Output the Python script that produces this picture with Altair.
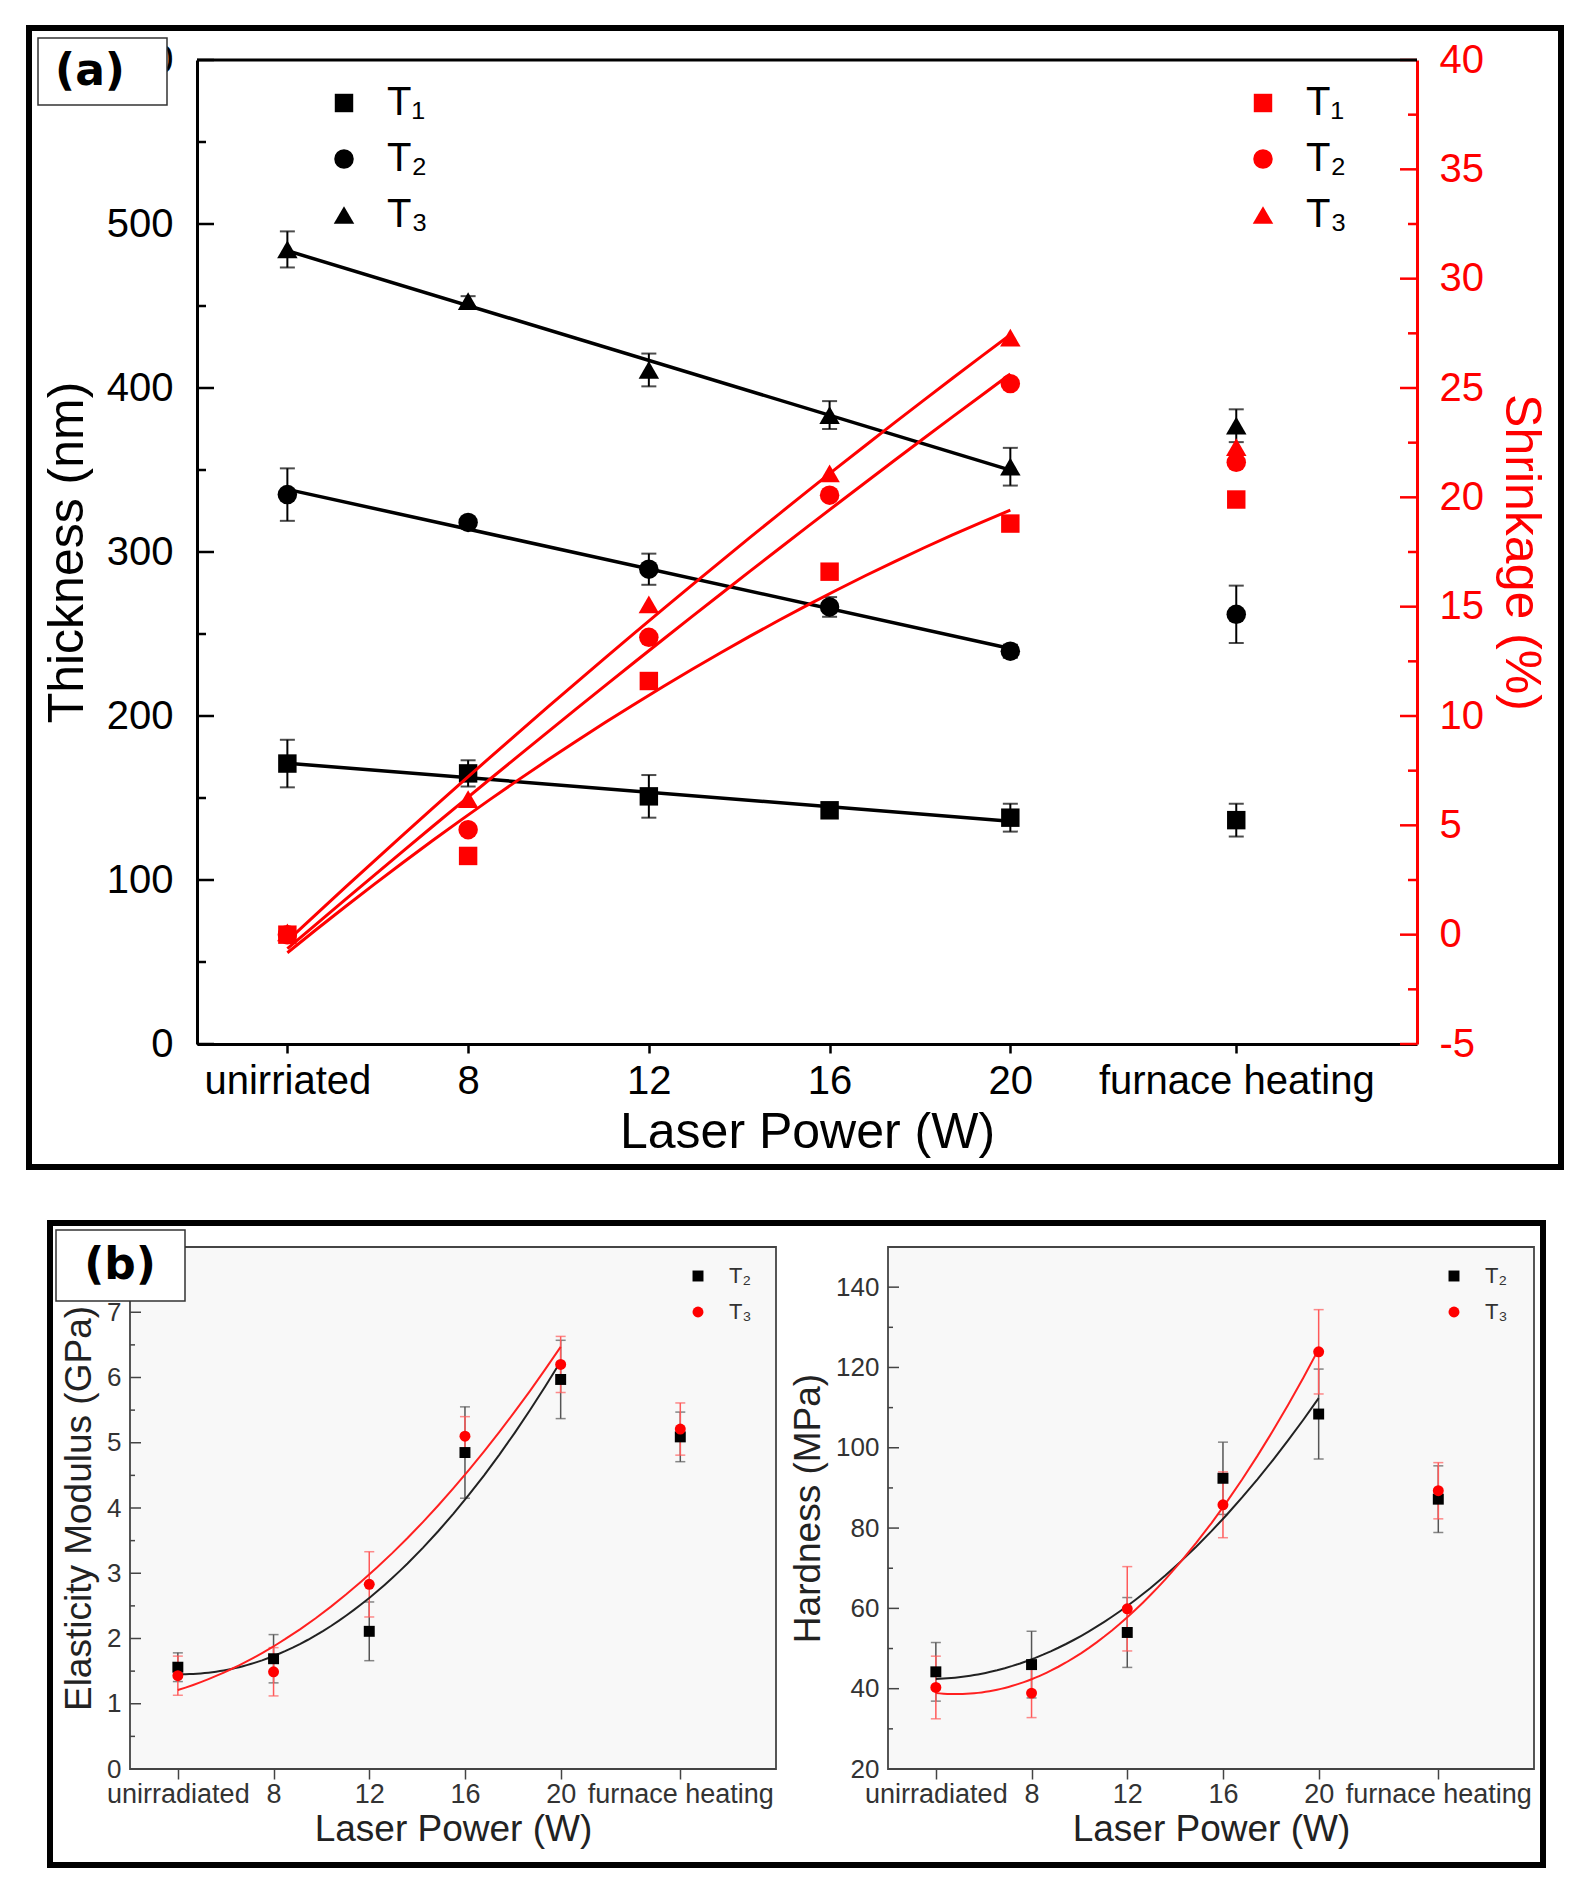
import altair as alt
import pandas as pd

FONT = "Liberation Sans"

# ---------------- data ----------------
x_pos = [4, 8, 12, 16, 20, 25]
x_labels_a = ["unirriated", "8", "12", "16", "20", "furnace heating"]
x_labels_b = ["unirradiated", "8", "12", "16", "20", "furnace heating"]

series_a = ["T₁", "T₂", "T₃"]
thick_T1 = [171, 165, 151, 142.5, 138, 136.5]
thick_T1_err = [14.5, 8, 13, 4, 8.5, 10]
thick_T2 = [335, 318, 289.5, 266.5, 239.5, 262]
thick_T2_err = [16, 3, 9.5, 6, 4, 17.5]
thick_T3 = [484.5, 453, 411, 383.5, 352, 377]
thick_T3_err = [11, 3, 10, 8.5, 11.5, 10]

shrink_T1 = [0, 3.6, 11.6, 16.6, 18.8, 19.9]
shrink_T2 = [0, 4.8, 13.6, 20.1, 25.2, 21.6]
shrink_T3 = [0.1, 6.2, 15.1, 21.1, 27.3, 22.3]

series_b = ["T₂", "T₃"]
mod_T2 = [1.56, 1.69, 2.11, 4.85, 5.97, 5.09]
mod_T2_err = [0.22, 0.37, 0.45, 0.7, 0.6, 0.38]
mod_T3 = [1.43, 1.49, 2.83, 5.10, 6.20, 5.21]
mod_T3_err = [0.3, 0.37, 0.5, 0.3, 0.43, 0.4]
hard_T2 = [44.2, 46.0, 54.0, 92.4, 108.4, 87.2]
hard_T2_err = [7.3, 8.3, 8.7, 9.0, 11.2, 8.3]
hard_T3 = [40.3, 38.9, 59.9, 85.8, 123.9, 89.3]
hard_T3_err = [7.8, 6.1, 10.5, 8.2, 10.5, 7.0]

thick_major = [0, 100, 200, 300, 400, 500, 600]
thick_minor = [50, 150, 250, 350, 450, 550]
shrink_major = [-5, 0, 5, 10, 15, 20, 25, 30, 35, 40]
shrink_minor = [-2.5, 2.5, 7.5, 12.5, 17.5, 22.5, 27.5, 32.5, 37.5]
mod_major = [0, 1, 2, 3, 4, 5, 6, 7, 8]
mod_minor = [0.5, 1.5, 2.5, 3.5, 4.5, 5.5, 6.5, 7.5]
hard_major = [20, 40, 60, 80, 100, 120, 140]
hard_minor = [30, 50, 70, 90, 110, 130, 150]


def make_long(names, values, errs=None):
    rows = []
    for k, name in enumerate(names):
        for j, xv in enumerate(x_pos):
            r = {"series": name, "x": xv, "v": values[k][j]}
            if errs is not None:
                r["lo"] = values[k][j] - errs[k][j]
                r["hi"] = values[k][j] + errs[k][j]
            rows.append(r)
    return pd.DataFrame(rows)


def label_expr(labels):
    expr = "''"
    for v, l in reversed(list(zip(x_pos, labels))):
        expr = f"datum.value == {v} ? '{l}' : ({expr})"
    return expr


one = pd.DataFrame({"k": [0]})

# ---------------- panel (a) ----------------
WA, HA = 1220, 984
df_thick = make_long(series_a, [thick_T1, thick_T2, thick_T3],
                     [thick_T1_err, thick_T2_err, thick_T3_err])
df_shrink = make_long(series_a, [shrink_T1, shrink_T2, shrink_T3])

x_a = alt.X("x:Q", scale=alt.Scale(domain=[2, 29], nice=False, zero=False),
            axis=alt.Axis(values=x_pos, labelExpr=label_expr(x_labels_a),
                          title="Laser Power (W)", tickSize=9, tickWidth=2.5,
                          tickColor="black", domainColor="black", domainWidth=3,
                          labelFontSize=40, titleFontSize=50, labelPadding=8,
                          titlePadding=6, labelColor="black", titleColor="black",
                          grid=False, labelOverlap=False, labelFlush=False,
                          labelLimit=600))

axis_left = alt.Axis(orient="left", values=thick_major, ticks=False,
                     title="Thickness (nm)", labelFontSize=40, titleFontSize=50,
                     labelPadding=24, titlePadding=14, domainColor="black",
                     domainWidth=3, grid=False, labelColor="black", titleColor="black")
axis_right = alt.Axis(orient="right", values=shrink_major, ticks=False,
                      labelExpr="'' + datum.value",
                      title="Shrinkage (%)", labelFontSize=40, titleFontSize=50,
                      labelPadding=22, titlePadding=12, domainColor="red",
                      domainWidth=3, grid=False, labelColor="red", titleColor="red")

sc_left = alt.Scale(domain=[0, 600], nice=False, zero=False)
sc_right = alt.Scale(domain=[-5, 40], nice=False, zero=False)


def yl(f):
    return alt.Y(f"{f}:Q", scale=sc_left, axis=axis_left)


def yr(f):
    return alt.Y(f"{f}:Q", scale=sc_right, axis=axis_right)


shape_a_scale = alt.Scale(domain=series_a, range=["square", "circle", "triangle-up"])
size_a_scale = alt.Scale(domain=series_a, range=[340, 420, 600])

left_legend = alt.Legend(orient="none", legendX=127, legendY=23, title=None,
                         labelFontSize=40, labelColor="black",
                         symbolFillColor="black", symbolStrokeColor="black",
                         symbolStrokeWidth=0, rowPadding=16, labelOffset=23)
right_legend = alt.Legend(orient="none", legendX=1046, legendY=23, title=None,
                          labelFontSize=40, labelColor="black",
                          symbolFillColor="red", symbolStrokeColor="red",
                          symbolStrokeWidth=0, rowPadding=16, labelOffset=23)

base_l = alt.Chart(df_thick)
err_l = base_l.mark_rule(color="black", strokeWidth=2).encode(x=x_a, y=yl("lo"), y2="hi:Q")
caplo_l = base_l.mark_tick(orient="horizontal", size=15, thickness=2, color="black").encode(x=x_a, y=yl("lo"))
caphi_l = base_l.mark_tick(orient="horizontal", size=15, thickness=2, color="black").encode(x=x_a, y=yl("hi"))
fit_l = base_l.transform_filter("datum.x <= 20").transform_regression(
    "x", "v", groupby=["series"], method="linear"
).mark_line(color="black", strokeWidth=3.5).encode(x=x_a, y=yl("v"), detail="series:N")
pts_l = base_l.mark_point(filled=True, opacity=1, color="black").encode(
    x=x_a, y=yl("v"),
    shape=alt.Shape("series:N", scale=shape_a_scale, legend=left_legend),
    size=alt.Size("series:N", scale=size_a_scale, legend=left_legend))
tmaj_l = alt.Chart(pd.DataFrame({"t": thick_major})).mark_rule(color="black", strokeWidth=2.5).encode(
    y=yl("t"), x=alt.value(0), x2=alt.value(17))
tmin_l = alt.Chart(pd.DataFrame({"t": thick_minor})).mark_rule(color="black", strokeWidth=2.5).encode(
    y=yl("t"), x=alt.value(0), x2=alt.value(9))
left_group = alt.layer(tmaj_l, tmin_l, err_l, caplo_l, caphi_l, fit_l, pts_l)

base_r = alt.Chart(df_shrink)
fit_r = base_r.transform_filter("datum.x <= 20").transform_regression(
    "x", "v", groupby=["series"], method="poly", order=2
).mark_line(color="red", strokeWidth=3).encode(x=x_a, y=yr("v"), detail="series:N")
pts_r = base_r.mark_point(filled=True, opacity=1, color="red").encode(
    x=x_a, y=yr("v"),
    shape=alt.Shape("series:N", scale=shape_a_scale, legend=right_legend),
    size=alt.Size("series:N", scale=size_a_scale, legend=right_legend))
tmaj_r = alt.Chart(pd.DataFrame({"t": shrink_major})).mark_rule(color="red", strokeWidth=2.5).encode(
    y=yr("t"), x=alt.value(WA - 17), x2=alt.value(WA))
tmin_r = alt.Chart(pd.DataFrame({"t": shrink_minor})).mark_rule(color="red", strokeWidth=2.5).encode(
    y=yr("t"), x=alt.value(WA - 9), x2=alt.value(WA))
right_group = alt.layer(tmaj_r, tmin_r, fit_r, pts_r)

top_rule_a = alt.Chart(one).mark_rule(color="black", strokeWidth=3).encode(
    x=alt.value(0), x2=alt.value(WA), y=alt.value(0))
border_a = alt.Chart(one).mark_rect(filled=False, stroke="black", strokeWidth=6).encode(
    x=alt.value(-168), x2=alt.value(1364), y=alt.value(-32), y2=alt.value(1107))
box_a = alt.Chart(one).mark_rect(fill="white", stroke="#333", strokeWidth=1.5).encode(
    x=alt.value(-159), x2=alt.value(-30), y=alt.value(-22), y2=alt.value(45))
lab_a = alt.Chart(one).mark_text(text="(a)", font="DejaVu Sans", fontWeight="bold",
                                 fontSize=44, align="center", baseline="middle",
                                 color="black").encode(x=alt.value(-107), y=alt.value(12))

chartA = alt.layer(left_group, right_group, top_rule_a, border_a, box_a, lab_a).resolve_scale(
    y="independent", shape="independent", size="independent"
).properties(width=WA, height=HA, view=alt.ViewBackground(stroke="transparent", fill="white"))

# offset holder so that panel (a)'s plot starts 67 px right of panel (b)'s first plot
shift_a = alt.Chart(one).mark_point(opacity=0).encode(
    x=alt.value(0), y=alt.value(0)
).properties(width=67, height=HA, view=alt.ViewBackground(stroke="transparent"))
rowA = alt.hconcat(shift_a, chartA, spacing=0, bounds="flush")

# ---------------- panel (b) ----------------
WB, HB = 646, 522
GRAY_TXT = "#333333"

x_b = alt.X("x:Q", scale=alt.Scale(domain=[2, 29], nice=False, zero=False),
            axis=alt.Axis(values=x_pos, labelExpr=label_expr(x_labels_b),
                          title="Laser Power (W)", tickSize=10, tickWidth=1.5,
                          tickColor="#444444", domain=False,
                          labelFontSize=27, titleFontSize=37, labelPadding=2,
                          titlePadding=4, labelColor=GRAY_TXT, titleColor="#222222",
                          grid=False, labelOverlap=False, labelFlush=False,
                          labelLimit=600))

color_b = alt.Scale(domain=series_b, range=["black", "red"])
shape_b = alt.Scale(domain=series_b, range=["square", "circle"])
err_colors = {"T₂": "#555555", "T₃": "#ff5a5a"}
fit_colors = {"T₂": "#222222", "T₃": "#ff2020"}


def panel_b(df, y_scale, major, minor, title, legend_x, extra=()):
    ax = alt.Axis(orient="left", values=major, ticks=False, domain=False, title=title,
                  labelFontSize=26, titleFontSize=37, labelPadding=9, titlePadding=8,
                  grid=False, labelColor=GRAY_TXT, titleColor="#222222")

    def yb(f):
        return alt.Y(f"{f}:Q", scale=y_scale, axis=ax)

    leg = alt.Legend(orient="none", legendX=legend_x, legendY=18, title=None,
                     labelFontSize=22, labelColor=GRAY_TXT, symbolSize=120,
                     rowPadding=14, labelOffset=20, symbolStrokeWidth=0)
    layers = [
        alt.Chart(pd.DataFrame({"t": major})).mark_rule(color="#444444", strokeWidth=1.5).encode(
            y=yb("t"), x=alt.value(0), x2=alt.value(11)),
        alt.Chart(pd.DataFrame({"t": minor})).mark_rule(color="#444444", strokeWidth=1.5).encode(
            y=yb("t"), x=alt.value(0), x2=alt.value(5)),
    ]
    base = alt.Chart(df)
    for s in series_b:
        c = err_colors[s]
        b = base.transform_filter(f"datum.series == '{s}'")
        layers.append(b.mark_rule(color=c, strokeWidth=1.5).encode(x=x_b, y=yb("lo"), y2="hi:Q"))
        layers.append(b.mark_tick(orient="horizontal", size=10, thickness=1.5, color=c).encode(x=x_b, y=yb("lo")))
        layers.append(b.mark_tick(orient="horizontal", size=10, thickness=1.5, color=c).encode(x=x_b, y=yb("hi")))
    for s in series_b:
        layers.append(
            base.transform_filter(f"datum.series == '{s}' && datum.x <= 20")
            .transform_regression("x", "v", method="poly", order=2)
            .mark_line(color=fit_colors[s], strokeWidth=2).encode(x=x_b, y=yb("v")))
    layers.append(base.mark_point(filled=True, size=120, opacity=1).encode(
        x=x_b, y=yb("v"),
        color=alt.Color("series:N", scale=color_b, legend=leg),
        shape=alt.Shape("series:N", scale=shape_b, legend=leg)))
    layers.extend(extra)
    return alt.layer(*layers).properties(
        width=WB, height=HB,
        view=alt.ViewBackground(fill="#f8f8f8", stroke="#444444", strokeWidth=1.8))


df_mod = make_long(series_b, [mod_T2, mod_T3], [mod_T2_err, mod_T3_err])
df_hard = make_long(series_b, [hard_T2, hard_T3], [hard_T2_err, hard_T3_err])

border_b = alt.Chart(one).mark_rect(filled=False, stroke="black", strokeWidth=6).encode(
    x=alt.value(-80), x2=alt.value(1413), y=alt.value(-24), y2=alt.value(618))
box_b = alt.Chart(one).mark_rect(fill="white", stroke="#333", strokeWidth=1.5).encode(
    x=alt.value(-74), x2=alt.value(55), y=alt.value(-17), y2=alt.value(54))
lab_b = alt.Chart(one).mark_text(text="(b)", font="DejaVu Sans", fontWeight="bold",
                                 fontSize=44, align="center", baseline="middle",
                                 color="black").encode(x=alt.value(-10), y=alt.value(19))

chartB1 = panel_b(df_mod, alt.Scale(domain=[0, 8], nice=False, zero=False),
                  mod_major, mod_minor, "Elasticity  Modulus (GPa)", 557,
                  extra=(border_b, box_b, lab_b))
chartB2 = panel_b(df_hard, alt.Scale(domain=[20, 150], nice=False, zero=False),
                  hard_major, hard_minor, "Hardness (MPa)", 555)

rowB = alt.hconcat(chartB1, chartB2, spacing=112, bounds="flush").resolve_scale(
    color="independent", shape="independent")

chart = alt.vconcat(rowA, rowB, spacing=48).resolve_scale(
    color="independent", shape="independent", size="independent"
).properties(
    padding={"left": 25, "top": 24, "right": 0, "bottom": 0}
).configure_axis(labelFont=FONT, titleFont=FONT, titleFontWeight="normal").configure_legend(
    labelFont=FONT
).configure_text(font=FONT)

chart.save("out.html", embed_options={"renderer": "svg", "actions": False})
